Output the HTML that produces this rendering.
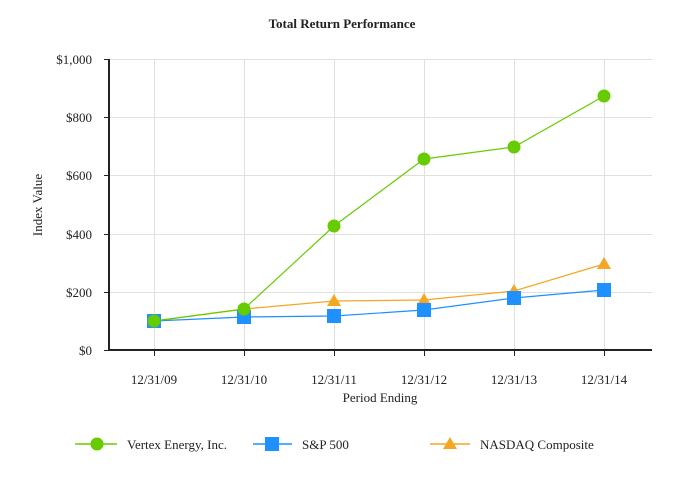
<!DOCTYPE html>
<html><head><style>body{margin:0;background:#fff}svg{display:block}text{font-family:"Liberation Serif",serif;fill:#222}</style></head><body>
<svg width="684" height="480" viewBox="0 0 684 480">
<text x="342" y="28" text-anchor="middle" font-size="13" font-weight="bold">Total Return Performance</text>
<g stroke="#e0e0e0" stroke-width="1">
<line x1="109" y1="59.5" x2="652" y2="59.5"/><line x1="109" y1="117.5" x2="652" y2="117.5"/><line x1="109" y1="175.5" x2="652" y2="175.5"/><line x1="109" y1="234.5" x2="652" y2="234.5"/><line x1="109" y1="292.5" x2="652" y2="292.5"/>
<line x1="154.5" y1="59" x2="154.5" y2="350"/><line x1="244.5" y1="59" x2="244.5" y2="350"/><line x1="334.5" y1="59" x2="334.5" y2="350"/><line x1="424.5" y1="59" x2="424.5" y2="350"/><line x1="514.5" y1="59" x2="514.5" y2="350"/><line x1="604.5" y1="59" x2="604.5" y2="350"/>
</g>
<g stroke="#222" stroke-width="1">
<line x1="104" y1="59.5" x2="109" y2="59.5"/><line x1="104" y1="117.5" x2="109" y2="117.5"/><line x1="104" y1="175.5" x2="109" y2="175.5"/><line x1="104" y1="234.5" x2="109" y2="234.5"/><line x1="104" y1="292.5" x2="109" y2="292.5"/><line x1="104" y1="350.5" x2="109" y2="350.5"/>
<line x1="154.5" y1="350" x2="154.5" y2="356"/><line x1="244.5" y1="350" x2="244.5" y2="356"/><line x1="334.5" y1="350" x2="334.5" y2="356"/><line x1="424.5" y1="350" x2="424.5" y2="356"/><line x1="514.5" y1="350" x2="514.5" y2="356"/><line x1="604.5" y1="350" x2="604.5" y2="356"/>
</g>
<line x1="109" y1="59" x2="109" y2="351" stroke="#222" stroke-width="2"/>
<line x1="108" y1="350" x2="652" y2="350" stroke="#222" stroke-width="2"/>
<g font-size="13" text-anchor="end">
<text x="92" y="64">$1,000</text><text x="92" y="122">$800</text><text x="92" y="180">$600</text><text x="92" y="239">$400</text><text x="92" y="297">$200</text><text x="92" y="355">$0</text>
</g>
<g font-size="13" text-anchor="middle">
<text x="154" y="384">12/31/09</text><text x="244" y="384">12/31/10</text><text x="334" y="384">12/31/11</text><text x="424" y="384">12/31/12</text><text x="514" y="384">12/31/13</text><text x="604" y="384">12/31/14</text>
<text x="380" y="402">Period Ending</text>
<text transform="translate(42,205) rotate(-90)">Index Value</text>
</g>
<polyline fill="none" stroke="#f5a623" stroke-width="1.2" points="154,321 244,309 334,301 424,300 514,291 604,264"/>
<polyline fill="none" stroke="#1e90ff" stroke-width="1.2" points="154,321 244,317 334,316 424,310 514,298 604,290"/>
<polyline fill="none" stroke="#66cc00" stroke-width="1.2" points="154,321 244,309 334,226 424,159 514,147 604,96"/>
<g fill="#f5a623">
<polygon points="334,294 341,306 327,306"/><polygon points="424,293 431,305 417,305"/><polygon points="514,284 521,296 507,296"/><polygon points="604,257 611,269 597,269"/>
</g>
<g fill="#1e90ff">
<rect x="147" y="314" width="14" height="14"/><rect x="237" y="310" width="14" height="14"/><rect x="327" y="309" width="14" height="14"/><rect x="417" y="303" width="14" height="14"/><rect x="507" y="291" width="14" height="14"/><rect x="597" y="283" width="14" height="14"/>
</g>
<g fill="#66cc00">
<circle cx="154" cy="321" r="6.5"/><circle cx="244" cy="309" r="6.5"/><circle cx="334" cy="226" r="6.5"/><circle cx="424" cy="159" r="6.5"/><circle cx="514" cy="147" r="6.5"/><circle cx="604" cy="96" r="6.5"/>
</g>
<line x1="75" y1="444" x2="117" y2="444" stroke="#66cc00" stroke-width="1.5"/><circle cx="97" cy="444" r="6.5" fill="#66cc00"/>
<text x="127" y="449" font-size="13">Vertex Energy, Inc.</text>
<line x1="253" y1="444" x2="292" y2="444" stroke="#1e90ff" stroke-width="1.5"/><rect x="265" y="437" width="14" height="14" fill="#1e90ff"/>
<text x="302" y="449" font-size="13">S&amp;P 500</text>
<line x1="430" y1="444" x2="470" y2="444" stroke="#f5a623" stroke-width="1.5"/><polygon points="450,437 457,449 443,449" fill="#f5a623"/>
<text x="480" y="449" font-size="13">NASDAQ Composite</text>
</svg>
</body></html>
